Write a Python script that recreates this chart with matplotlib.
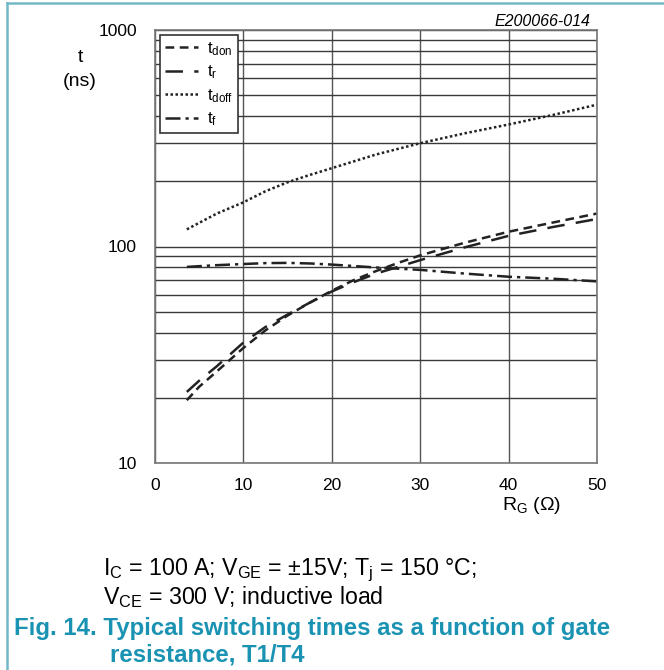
import matplotlib
matplotlib.use("Agg")
import matplotlib.pyplot as plt

plt.rcParams['font.family'] = ['Liberation Sans', 'DejaVu Sans']
plt.rcParams['mathtext.fontset'] = 'custom'
plt.rcParams['mathtext.rm'] = 'Liberation Sans'
plt.rcParams['mathtext.it'] = 'Liberation Sans:italic'

# gate resistance (ohm) and switching times (ns)
rg = [3.6, 5, 7, 10, 12.5, 15, 17.5, 20, 22.5, 25, 27.5, 30, 35, 40, 45, 50]
t_don = [19.5, 22.5, 26.5, 34, 41, 48, 55, 62.5, 70, 77, 84, 91, 104, 117, 129, 142]
t_r = [21.3, 24, 28, 36, 42.5, 48.5, 55, 62, 68.5, 75, 80.5, 86.5, 99, 112, 123, 134]
rg2 = [3.6, 7, 10, 12.5, 15, 17.5, 20, 25, 30, 35, 40, 45, 50]
t_doff = [120, 142, 160, 180, 198, 214, 230, 266, 300, 333, 366, 405, 452]
t_f = [80.5, 82, 83, 83.8, 84, 83.5, 82.5, 80, 78, 75, 72.5, 71, 69]

xticks = [0, 10, 20, 30, 40, 50]
yticks = [10, 100, 1000]

teal = '#1a93b3'
fig = plt.figure(figsize=(6.64, 6.70), dpi=100)
ax = fig.add_axes([155/664, 1 - 463/670, 442/664, 433/670])

ax.plot(rg, t_don, color='#222', lw=1.8, dashes=(3.5, 2.2), label=r'$\mathregular{t_{don}}$')
ax.plot(rg, t_r, color='#222', lw=1.8, dashes=(7, 4.5), label=r'$\mathregular{t_{r}}$')
ax.plot(rg2, t_doff, color='#222', lw=1.8, dashes=(1.0, 1.0), label=r'$\mathregular{t_{doff}}$')
ax.plot(rg2, t_f, color='#222', lw=1.8, dashes=(6, 2, 1.3, 2), label=r'$\mathregular{t_{f}}$')

ax.set_yscale('log')
ax.set_xlim(0, 50)
ax.set_ylim(10, 1000)
ax.set_xticks(xticks)
ax.set_xticklabels([str(v) for v in xticks])
ax.set_yticks(yticks)
ax.set_yticklabels([str(v) for v in yticks])
ax.yaxis.set_minor_formatter(matplotlib.ticker.NullFormatter())
ax.tick_params(which='both', length=0, labelsize=12.5)
ax.tick_params(axis='x', pad=11)
ax.tick_params(axis='y', pad=13)
ax.grid(which='both', axis='y', color='#3a3a3a', lw=1)
ax.grid(which='major', axis='x', color='#555', lw=1)
for s in ax.spines.values():
    s.set_color('#777')
    s.set_linewidth(1.2)

leg = ax.legend(loc='upper left', bbox_to_anchor=(0.011, 0.988), borderaxespad=0,
                fontsize=12, handlelength=2.0, labelspacing=0.35, borderpad=0.3,
                handletextpad=0.5, fancybox=False, framealpha=1, edgecolor='#333')
leg.get_frame().set_linewidth(1.2)

fig.text(80/664, 1 - 57/670, 't', fontsize=14, ha='center', va='center')
fig.text(80/664, 1 - 82/670, '(ns)', fontsize=14, ha='center', va='center')
fig.text(532/664, 1 - 506/670, r'R$_\mathregular{G}$ ($\Omega$)', fontsize=14,
         ha='center', va='center')
fig.text(590/664, 1 - 22/670, 'E200066-014', fontsize=11.5, style='italic',
         ha='right', va='center')

fig.text(103/664, 1 - 570/670,
         r'I$_\mathregular{C}$ = 100 A; V$_\mathregular{GE}$ = ±15V; T$_\mathregular{j}$ = 150 °C;',
         fontsize=16.7, ha='left', va='center')
fig.text(103/664, 1 - 597/670, r'V$_\mathregular{CE}$ = 300 V; inductive load',
         fontsize=16.7, ha='left', va='center')
fig.text(14/664, 1 - 628/670, 'Fig. 14. Typical switching times as a function of gate',
         fontsize=17.3, fontweight='bold', color=teal, ha='left', va='center')
fig.text(110/664, 1 - 655/670, 'resistance, T1/T4',
         fontsize=17.3, fontweight='bold', color=teal, ha='left', va='center')

# page frame lines
fig.add_artist(plt.Line2D([7/664, 7/664], [0, 1 - 3/670], color='#72b8c8', lw=1.8))
fig.add_artist(plt.Line2D([7/664, 1], [1 - 3/670, 1 - 3/670], color='#72b8c8', lw=1.8))

fig.savefig('out.png', dpi=100)
